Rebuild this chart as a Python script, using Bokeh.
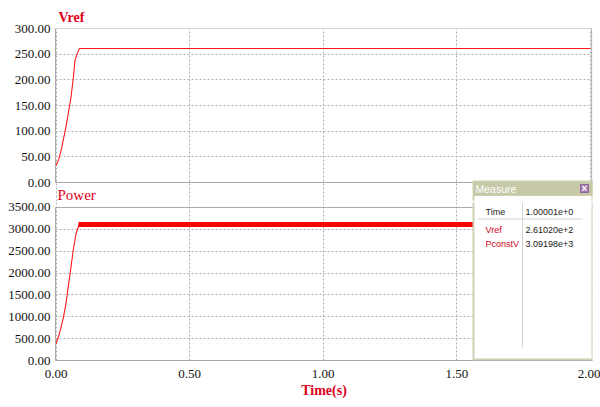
from bokeh.plotting import figure
from bokeh.layouts import column
from bokeh.models import Range1d, FixedTicker, PrintfTickFormatter, Label, BoxAnnotation
from bokeh.embed import file_html
from bokeh.resources import INLINE

# ---- data ----
vref_t = [0, 0.01, 0.019, 0.028, 0.037, 0.046, 0.056, 0.065, 0.071, 0.08, 0.088, 2.0]
vref = [33, 45, 62, 85, 108, 135, 166, 205, 238, 252, 261, 261]

power_t = [0, 0.01, 0.019, 0.028, 0.037, 0.046, 0.056, 0.065, 0.075, 0.086]
power = [382, 560, 762, 1000, 1297, 1700, 2135, 2550, 2899, 3110]

band_t = [0.084, 2.0]
band_lo = [3053, 3053]
band_hi = [3168, 3168]

x_ticks = [0, 0.5, 1.0, 1.5, 2.0]
vref_ticks = [0, 50, 100, 150, 200, 250, 300]
power_ticks = [0, 500, 1000, 1500, 2000, 2500, 3000, 3500]

measure_names = ["Time", "Vref", "PconstV"]
measure_values = ["1.00001e+0", "2.61020e+2", "3.09198e+3"]
measure_name_colors = ["#222222", "#d0021b", "#d0021b"]

RED = "#e0001b"
LINE_RED = "#ff1a1a"
GRID = "#b0b0b0"
FRAME = "#a8a8a8"
KHAKI = "#cfd0b2"
BAR = "#c6c8a8"
SERIF = "Liberation Serif"
SANS = "Liberation Sans"


def scr_box(**kw):
    return BoxAnnotation(left_units="screen", right_units="screen",
                         top_units="screen", bottom_units="screen", **kw)


def style(p, yticks, ymax):
    p.outline_line_color = None
    p.yaxis.ticker = FixedTicker(ticks=yticks)
    p.yaxis.bounds = (0, ymax)
    p.yaxis.formatter = PrintfTickFormatter(format="%.2f")
    p.yaxis.major_label_text_font = SERIF
    p.yaxis.major_label_text_font_size = "13px"
    p.yaxis.major_label_text_color = "#111111"
    p.yaxis.major_tick_out = 0
    p.yaxis.major_tick_in = 0
    p.yaxis.minor_tick_out = 0
    p.yaxis.minor_tick_in = 0
    p.yaxis.axis_line_color = FRAME
    p.yaxis.major_label_standoff = 5
    p.ygrid.ticker = FixedTicker(ticks=yticks)
    p.xgrid.ticker = FixedTicker(ticks=x_ticks)
    p.xgrid.bounds = (0, ymax)
    for g in (p.xgrid, p.ygrid):
        g.grid_line_color = GRID
        g.grid_line_dash = "2 2"
        g.grid_line_width = 1
    p.background_fill_color = "white"
    p.border_fill_color = "white"
    # plot frame border drawn on the data box
    p.add_layout(BoxAnnotation(left=-0.002, right=2.005, bottom=0, top=ymax,
                               fill_alpha=0, line_color=FRAME, line_width=1,
                               line_alpha=1, level="underlay"))


xr = Range1d(-0.002, 2.008)

# ---------------- top panel ----------------
top = figure(width=600, height=201, x_range=xr, y_range=Range1d(-37, 300),
             output_backend="svg", toolbar_location=None,
             min_border_left=55, min_border_right=8, min_border_top=28, min_border_bottom=0)
style(top, vref_ticks, 300)
top.xaxis.visible = False
top.title.text = "Vref"
top.title.text_font = SERIF
top.title.text_font_size = "14px"
top.title.text_font_style = "bold"
top.title.text_color = RED
top.title.offset = 3
top.title.standoff = 8
top.line(vref_t, vref, line_color=LINE_RED, line_width=1.1)

top.add_layout(Label(x=2, y=6.5, x_units="screen", y_units="screen", text="Power",
                     text_font=SERIF, text_font_size="15px",
                     text_color=RED, text_baseline="middle"))

# measure window: title bar part
top.add_layout(scr_box(left=418, right=537, top=20, bottom=-30,
                       fill_color="white", fill_alpha=1,
                       line_color=KHAKI, line_width=2, line_alpha=1))
top.add_layout(scr_box(left=418, right=537, top=20, bottom=6,
                       fill_color=BAR, fill_alpha=1,
                       line_color=KHAKI, line_width=1, line_alpha=1))
top.add_layout(Label(x=420, y=12.7, x_units="screen", y_units="screen", text="Measure",
                     text_font=SANS, text_font_size="10.5px", text_color="white",
                     text_baseline="middle"))
top.add_layout(scr_box(left=525, right=533, top=17, bottom=9,
                       fill_color="#a67bb0", fill_alpha=1,
                       line_color="#8d6598", line_width=1, line_alpha=1))
top.add_layout(Label(x=529, y=13, x_units="screen", y_units="screen", text="×",
                     text_font=SANS, text_font_size="10px", text_font_style="bold",
                     text_color="white", text_align="center", text_baseline="middle"))

# ---------------- bottom panel ----------------
bot = figure(width=600, height=206, x_range=xr, y_range=Range1d(0, 3614),
             output_backend="svg", toolbar_location=None,
             min_border_left=55, min_border_right=8, min_border_top=1, min_border_bottom=47)
style(bot, power_ticks, 3500)
bot.xaxis.ticker = FixedTicker(ticks=x_ticks)
bot.xaxis.formatter = PrintfTickFormatter(format="%.2f")
bot.xaxis.major_label_text_font = SERIF
bot.xaxis.major_label_text_font_size = "13px"
bot.xaxis.major_label_text_color = "#111111"
bot.xaxis.major_tick_out = 0
bot.xaxis.major_tick_in = 0
bot.xaxis.minor_tick_out = 0
bot.xaxis.minor_tick_in = 0
bot.xaxis.axis_line_color = FRAME
bot.xaxis.major_label_standoff = 9
bot.xaxis.axis_label = "Time(s)"
bot.xaxis.axis_label_text_font = SERIF
bot.xaxis.axis_label_text_font_size = "14px"
bot.xaxis.axis_label_text_font_style = "bold"
bot.xaxis.axis_label_text_color = RED
bot.xaxis.axis_label_standoff = 2

bot.line(power_t, power, line_color=LINE_RED, line_width=1.1)
bot.varea(x=band_t, y1=band_lo, y2=band_hi, fill_color="#ff0000")

# measure window body
bot.add_layout(scr_box(left=418, right=537, top=190, bottom=1,
                       fill_color="white", fill_alpha=1,
                       line_color=KHAKI, line_width=2, line_alpha=1))
bot.add_layout(scr_box(left=466.5, right=467.5, top=158, bottom=13,
                       fill_color="#d4d4d4", fill_alpha=1, line_alpha=0))
bot.add_layout(scr_box(left=422, right=527, top=142, bottom=141,
                       fill_color="#d4d4d4", fill_alpha=1, line_alpha=0))
row_y = [149, 131, 116.7]
for name, val, col, yy in zip(measure_names, measure_values, measure_name_colors, row_y):
    bot.add_layout(Label(x=430, y=yy, x_units="screen", y_units="screen", text=name,
                         text_font=SANS, text_font_size="9px", text_color=col,
                         text_baseline="middle"))
    bot.add_layout(Label(x=470, y=yy, x_units="screen", y_units="screen", text=val,
                         text_font=SANS, text_font_size="9px", text_color="#222222",
                         text_baseline="middle"))

layout = column(top, bot, spacing=0)
open("out.html", "w").write(file_html(layout, INLINE))
